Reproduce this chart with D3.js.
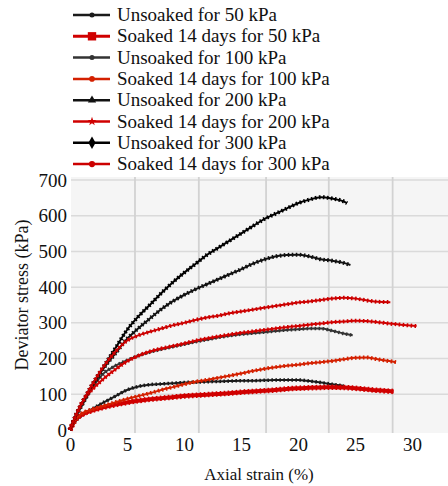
<!DOCTYPE html>
<html>
<head>
<meta charset="utf-8">
<script src="https://cdn.jsdelivr.net/npm/d3@7"></script>
<style>
  body { margin: 0; background: #fff; }
  svg { display: block; }
  svg text { font-family: "Liberation Serif", "Times New Roman", serif; }
</style>
</head>
<body>
<svg id="fig" width="448" height="486"></svg>
<script>
// strain (%) values shared by the curves
const strain = [0, 0.5, 1, 2, 3, 4, 5, 6, 7, 8, 9, 10, 11, 12, 13, 14, 15, 16, 17, 18, 19, 20, 21, 22, 23, 24, 25, 26, 27, 28, 29, 30];

const unsoaked50 = [0, 25, 40, 60, 78, 95, 112, 122, 127, 129, 131, 133, 134, 135, 136, 137, 138, 138, 139, 140, 140, 140, 137, 133, 128, 124];
const soaked50 = [0, 30, 42, 55, 64, 71, 77, 82, 86, 89, 92, 95, 97, 99, 101, 103, 106, 108, 110, 112, 115, 117, 118, 119, 120, 119, 117, 114, 111, 108];
const unsoaked100 = [0, 35, 65, 120, 160, 180, 195, 208, 218, 226, 233, 240, 247, 253, 259, 264, 268, 271, 274, 277, 280, 282, 284, 284, 278, 270, 265];
const soaked100 = [0, 30, 45, 58, 68, 78, 87, 95, 103, 112, 120, 128, 135, 140, 146, 152, 158, 165, 171, 176, 180, 183, 187, 190, 193, 198, 202, 203, 198, 193, 190];
const unsoaked200 = [0, 40, 70, 125, 175, 215, 255, 285, 312, 338, 360, 378, 394, 408, 422, 436, 450, 465, 477, 486, 490, 491, 486, 478, 474, 468, 462];
const soaked200 = [0, 40, 75, 115, 145, 170, 192, 208, 220, 228, 235, 242, 250, 256, 262, 267, 272, 276, 280, 284, 288, 291, 295, 298, 302, 304, 306, 305, 302, 298, 295, 291];
const unsoaked300 = [0, 40, 72, 130, 180, 230, 280, 318, 350, 383, 413, 440, 465, 490, 510, 530, 550, 570, 590, 605, 620, 635, 645, 652, 648, 640, 635];
const soaked300 = [0, 40, 72, 130, 180, 220, 250, 265, 275, 284, 293, 300, 308, 315, 320, 327, 332, 337, 342, 347, 352, 357, 360, 364, 368, 370, 368, 363, 359, 358];

// last strain point of the curves that stop between grid values
const lastStrain = {
    unsoaked50: 24, soaked50: 28.4, unsoaked100: 24.8, soaked100: 28.6,
    unsoaked200: 24.6, soaked200: 30.4, unsoaked300: 24.3, soaked300: 28.1
};

const legendLabels = [
    "Unsoaked for 50 kPa", "Soaked 14 days for 50 kPa",
    "Unsoaked for 100 kPa", "Soaked 14 days for 100 kPa",
    "Unsoaked for 200 kPa", "Soaked 14 days for 200 kPa",
    "Unsoaked for 300 kPa", "Soaked 14 days for 300 kPa"
];

const xTicks = [0, 5, 10, 15, 20, 25, 30];
const yTicks = [0, 100, 200, 300, 400, 500, 600, 700];
// the vertical grid of the original does not sit on the tick labels
const gridX = [5.7, 11.3, 17.2, 22.7, 28.3];

const series = [
    { key: "unsoaked50", values: unsoaked50, color: "#1a1a1a", width: 2, bead: 3.5, mark: d3.symbolCircle, ms: 20 },
    { key: "soaked50", values: soaked50, color: "#d00000", width: 4, bead: 5.5, mark: d3.symbolSquare, ms: 70 },
    { key: "unsoaked100", values: unsoaked100, color: "#333", width: 2, bead: 3.5, mark: d3.symbolCircle, ms: 20 },
    { key: "soaked100", values: soaked100, color: "#d42000", width: 2, bead: 4, mark: d3.symbolCircle, ms: 25 },
    { key: "unsoaked200", values: unsoaked200, color: "#111", width: 2, bead: 4, mark: d3.symbolTriangle, ms: 30 },
    { key: "soaked200", values: soaked200, color: "#d00000", width: 2, bead: 4, mark: d3.symbolStar, ms: 25 },
    { key: "unsoaked300", values: unsoaked300, color: "#000", width: 2, bead: 4, mark: d3.symbolDiamond, ms: 45 },
    { key: "soaked300", values: soaked300, color: "#cc0000", width: 2, bead: 4, mark: d3.symbolCircle, ms: 30 }
];

const Fig = d3.select("#fig");

const xScale = d3.scaleLinear().domain([0, 30]).range([70, 412]);
const yScale = d3.scaleLinear().domain([0, 700]).range([430, 180]);

// plot background
Fig.append("rect")
    .attr("x", xScale(0) + 1)
    .attr("y", yScale(700) - 3)
    .attr("width", 448 - xScale(0))
    .attr("height", yScale(0) - yScale(700) + 6)
    .attr("fill", "#f5f5f5");

// grid lines
Fig.append("g")
    .selectAll("line")
    .data(yTicks.slice(1))
    .join("line")
    .attr("x1", xScale(0) + 1)
    .attr("x2", 448)
    .attr("y1", d => yScale(d))
    .attr("y2", d => yScale(d))
    .attr("stroke", "#dadada")
    .attr("stroke-width", 1.5);

Fig.append("g")
    .selectAll("line")
    .data(gridX)
    .join("line")
    .attr("x1", d => xScale(d))
    .attr("x2", d => xScale(d))
    .attr("y1", yScale(700) - 3)
    .attr("y2", yScale(0) + 3)
    .attr("stroke", "#d2d2d2")
    .attr("stroke-width", 1.8);

// curves: solid line plus a dashed overlay for the dense markers
const line = d3.line()
    .x(d => xScale(d[0]))
    .y(d => yScale(d[1]))
    .curve(d3.curveMonotoneX);

series.forEach(s => {
    const pts = s.values.map((v, i) => [strain[i], v]);
    // the final point sits at the curve's own end strain
    pts[pts.length - 1][0] = lastStrain[s.key];

    const g = Fig.append("g");
    g.append("path")
        .attr("d", line(pts))
        .attr("fill", "none")
        .attr("stroke", s.color)
        .attr("stroke-width", s.width);
    g.append("path")
        .attr("d", line(pts))
        .attr("fill", "none")
        .attr("stroke", s.color)
        .attr("stroke-width", s.bead)
        .attr("stroke-dasharray", "1.6,2.4");
});

// axes
const x_axis = d3.axisBottom(xScale).tickValues(xTicks).tickSize(0).tickPadding(5);
const y_axis = d3.axisLeft(yScale).tickValues(yTicks).tickSize(0).tickPadding(3);

const gx = Fig.append("g")
    .attr("transform", `translate(0,${yScale(0) + 3})`)
    .call(x_axis);
const gy = Fig.append("g")
    .attr("transform", `translate(${xScale(0)},0)`)
    .call(y_axis);

[gx, gy].forEach(g => {
    g.attr("font-family", null);
    g.select(".domain").remove();
    g.selectAll("text")
        .attr("fill", "#111")
        .style("font-size", "19px");
});

// axis labels
Fig.append("text")
    .attr("x", 259)
    .attr("y", 480)
    .attr("text-anchor", "middle")
    .text("Axial strain (%)")
    .attr("fill", "#111")
    .style("font-size", "17px");

Fig.append("g")
    .attr("transform", `translate(${28},${295}) rotate(270)`)
    .append("text")
    .attr("text-anchor", "middle")
    .text("Deviator stress (kPa)")
    .attr("fill", "#111")
    .style("font-size", "18px");

// legend
const legendContainer = Fig.append("g")
    .attr("transform", `translate(${73},${15})`);

series.forEach((s, index) => {
    const legendItem = legendContainer.append("g")
        .attr("transform", `translate(0, ${index * 21.3})`);

    legendItem.append("line")
        .attr("x1", 0)
        .attr("x2", 37)
        .attr("stroke", s.color)
        .attr("stroke-width", s.key === "soaked50" ? 3 : 2.5);

    legendItem.append("path")
        .attr("transform", "translate(19,0)")
        .attr("d", d3.symbol(s.mark, s.ms)())
        .attr("fill", s.color);

    legendItem.append("text")
        .attr("x", 44)
        .attr("y", 6)
        .text(legendLabels[index])
        .attr("fill", "#111")
        .style("font-size", "19px");
});
</script>
</body>
</html>
